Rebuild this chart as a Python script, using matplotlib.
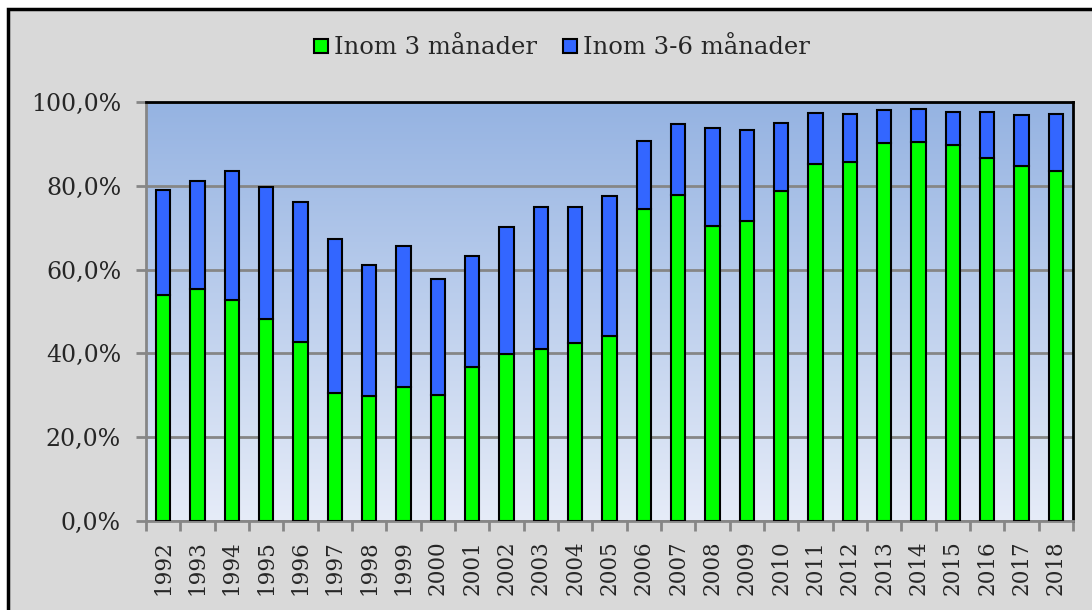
import numpy as np
import matplotlib.pyplot as plt
from matplotlib.patches import Rectangle
from matplotlib.colors import LinearSegmentedColormap
from matplotlib.ticker import FuncFormatter

years = [str(y) for y in range(1992, 2019)]
inom_3 = [53.9, 55.4, 52.7, 48.1, 42.7, 30.6, 29.8, 32.1, 30.0, 36.7, 39.8, 41.0, 42.6, 44.2,
          74.4, 77.7, 70.4, 71.6, 78.8, 85.1, 85.6, 90.3, 90.5, 89.7, 86.6, 84.8, 83.5]
total = [79.0, 81.1, 83.6, 79.6, 76.1, 67.2, 61.0, 65.6, 57.7, 63.2, 70.2, 75.0, 74.9, 77.6,
         90.7, 94.7, 93.8, 93.2, 95.0, 97.4, 97.1, 98.1, 98.3, 97.7, 97.7, 96.8, 97.1]
inom_3_6 = [t - g for t, g in zip(total, inom_3)]

plt.rcParams['font.family'] = ['DejaVu Serif']

fig = plt.figure(figsize=(10.92, 6.10), dpi=100, facecolor='white')
# grey chart frame
fig.patches.append(Rectangle((8 / 1092, -0.1), 1.2, (610 - 9) / 610 + 0.1,
                             transform=fig.transFigure, facecolor='#d9d9d9',
                             edgecolor='black', linewidth=2.5, zorder=-5))

ax = fig.add_axes([146 / 1092, 1 - 521 / 610, (1073 - 146) / 1092, (521 - 102) / 610])

x = np.arange(len(years))
ax.set_xlim(-0.5, len(years) - 0.5)
ax.set_ylim(0, 100)

# gradient plot area
cmap = LinearSegmentedColormap.from_list('bg', ['#e6ecf8', '#95b3e2'])
grad = np.linspace(0, 1, 256).reshape(-1, 1)
ax.imshow(grad, cmap=cmap, aspect='auto', origin='lower',
          extent=(-0.5, len(years) - 0.5, 0, 100), zorder=0)

ax.yaxis.grid(True, color='#868686', linewidth=2, zorder=1)
ax.set_axisbelow(True)

w = 0.42
ax.bar(x, inom_3, width=w, color='#00ff00', edgecolor='black', linewidth=1.5,
       label='Inom 3 månader', zorder=3)
ax.bar(x, inom_3_6, width=w, bottom=inom_3, color='#3366ff', edgecolor='black',
       linewidth=1.5, label='Inom 3-6 månader', zorder=3)

ax.set_yticks(np.arange(0, 101, 20))
ax.yaxis.set_major_formatter(FuncFormatter(lambda v, p: f"{v:.1f}%".replace('.', ',')))
ax.set_xticks(x)
ax.set_xticklabels(years, rotation=90)
ax.set_xticks(np.arange(-0.5, len(years), 1), minor=True)
ax.tick_params(axis='x', which='major', length=0, labelsize=15.5, pad=14, colors='#262626')
ax.tick_params(axis='x', which='minor', length=7, width=2, color='#868686')
ax.tick_params(axis='y', length=7, width=2, color='#868686', labelsize=17, pad=11,
               labelcolor='#262626')

for s in ['left', 'bottom']:
    ax.spines[s].set_color('#868686')
    ax.spines[s].set_linewidth(2)
for s in ['top', 'right']:
    ax.spines[s].set_color('black')
    ax.spines[s].set_linewidth(2)

leg = ax.legend(loc='center', bbox_to_anchor=(562 / 1092, 1 - 48 / 610),
                bbox_transform=fig.transFigure, ncol=2, frameon=False, fontsize=17.5,
                handlelength=0.55, handleheight=0.55, handletextpad=0.25, columnspacing=1.1)
for t in leg.get_texts():
    t.set_color('#262626')

fig.savefig('out.png', dpi=100, facecolor=fig.get_facecolor())
